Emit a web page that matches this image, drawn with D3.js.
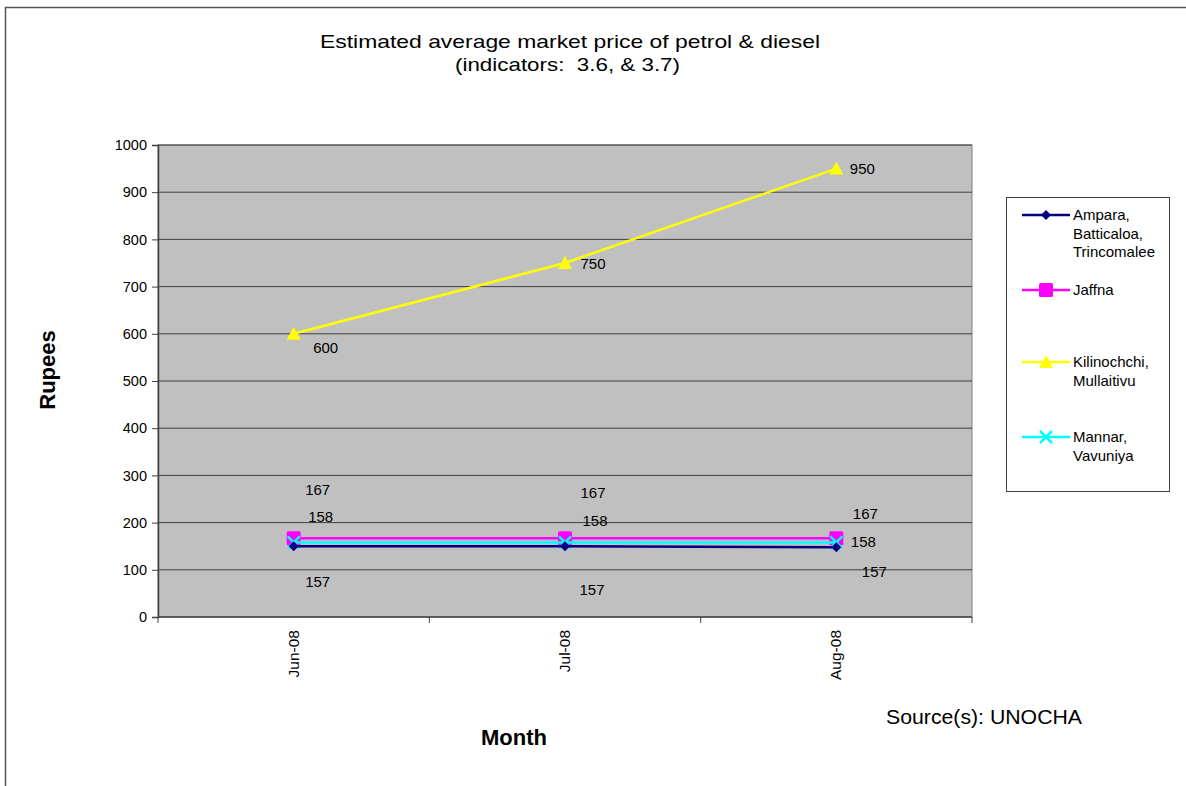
<!DOCTYPE html>
<html>
<head>
<style>
  body { margin: 0; background: #fff; }
  svg text { font-family: "Liberation Sans", Arial, sans-serif; fill: #000; white-space: pre; }
</style>
<script src="https://cdn.jsdelivr.net/npm/d3@7"></script>
</head>
<body>
<svg width="1186" height="786"></svg>
<script>
// data
var months = ["Jun-08", "Jul-08", "Aug-08"];
var ampara = [150, 150, 148];
var amparaLabels = [157, 157, 157];
var jaffna = [167, 167, 167];
var jaffnaLabels = [167, 167, 167];
var kilinochchi = [600, 750, 950];
var kilinochchiLabels = [600, 750, 950];
var mannar = [158, 158, 158];
var mannarLabels = [158, 158, 158];
var yTicks = [0, 100, 200, 300, 400, 500, 600, 700, 800, 900, 1000];

var series = [
  { name: ["Ampara,", "Batticaloa,", "Trincomalee"], values: ampara, labels: amparaLabels, color: "#000080", marker: "diamond",
    off: [[24, 36], [27, 44], [38, 25]], legendY: 215 },
  { name: ["Jaffna"], values: jaffna, labels: jaffnaLabels, color: "#ff00ff", marker: "square",
    off: [[24, -48], [28, -45], [29, -24]], legendY: 290 },
  { name: ["Kilinochchi,", "Mullaitivu"], values: kilinochchi, labels: kilinochchiLabels, color: "#ffff00", marker: "triangle",
    off: [[32, 14], [28, 1], [26, 0]], legendY: 362 },
  { name: ["Mannar,", "Vavuniya"], values: mannar, labels: mannarLabels, color: "#00ffff", marker: "x",
    off: [[27, -25], [30, -21], [27, 0]], legendY: 437 }
];

var svg = d3.select("svg");

// outer chart border
svg.append("rect").attr("x", 5.5).attr("y", 7.5).attr("width", 1200).attr("height", 800)
  .attr("fill", "none").attr("stroke", "#555").attr("stroke-width", 1.5);

var pLeft = 158, pTop = 145, pRight = 972, pBottom = 617;

var x = d3.scaleBand().domain(months).range([pLeft, pRight]);
var y = d3.scaleLinear().domain([0, 1000]).range([pBottom, pTop]);

// plot area
svg.append("rect").attr("x", pLeft).attr("y", pTop).attr("width", pRight - pLeft).attr("height", pBottom - pTop)
  .attr("fill", "#c0c0c0").attr("stroke", "#808080");

// gridlines
svg.append("g").selectAll("line").data(yTicks.slice(1)).enter().append("line")
  .attr("x1", pLeft).attr("x2", pRight)
  .attr("y1", function(d) { return y(d); }).attr("y2", function(d) { return y(d); })
  .attr("stroke", "#404040").attr("stroke-width", 1);

// y axis
var yAxis = svg.append("g").attr("transform", "translate(" + pLeft + ",0)")
  .call(d3.axisLeft(y).tickValues(yTicks).tickFormat(d3.format("d")).tickSize(6).tickPadding(5));
yAxis.select(".domain").attr("stroke", "#404040").attr("stroke-width", 1.5);
yAxis.selectAll(".tick line").attr("stroke", "#404040");
yAxis.selectAll(".tick text").attr("fill", "#000").style("font-size", "14.5px")
  .style("font-family", "'Liberation Sans', Arial, sans-serif");

// x axis (ticks at band edges)
var xAxis = svg.append("g").attr("transform", "translate(0," + pBottom + ")");
xAxis.append("line").attr("x1", pLeft).attr("x2", pRight).attr("stroke", "#404040").attr("stroke-width", 1.5);
xAxis.selectAll(".edge").data(months.concat(["end"])).enter().append("line")
  .attr("x1", function(d, i) { return i < months.length ? x(d) : pRight; })
  .attr("x2", function(d, i) { return i < months.length ? x(d) : pRight; })
  .attr("y1", 0).attr("y2", 6).attr("stroke", "#404040");
xAxis.selectAll("text").data(months).enter().append("text")
  .attr("transform", function(d) { return "translate(" + (x(d) + x.bandwidth() / 2 + 5) + ",13) rotate(-90)"; })
  .attr("text-anchor", "end").style("font-size", "15.5px").text(function(d) { return d; });

var line = d3.line()
  .x(function(d, i) { return x(months[i]) + x.bandwidth() / 2; })
  .y(function(d) { return y(d); });

function drawMarker(g, type, color, cx, cy) {
  if (type === "diamond") {
    g.append("path").attr("d", "M" + cx + "," + (cy - 5) + "L" + (cx + 5) + "," + cy + "L" + cx + "," + (cy + 5) + "L" + (cx - 5) + "," + cy + "Z")
      .attr("fill", color);
  } else if (type === "square") {
    g.append("rect").attr("x", cx - 7).attr("y", cy - 7).attr("width", 14).attr("height", 14).attr("rx", 1.5)
      .attr("fill", color);
  } else if (type === "triangle") {
    g.append("path").attr("d", "M" + cx + "," + (cy - 7) + "L" + (cx + 7) + "," + (cy + 6) + "L" + (cx - 7) + "," + (cy + 6) + "Z")
      .attr("fill", color);
  } else {
    g.append("path").attr("d", "M" + (cx - 6) + "," + (cy - 6) + "L" + (cx + 6) + "," + (cy + 6) + "M" + (cx + 6) + "," + (cy - 6) + "L" + (cx - 6) + "," + (cy + 6))
      .attr("stroke", color).attr("stroke-width", 2.5).attr("fill", "none");
  }
}

// draw order: yellow, magenta, cyan, navy
var order = [2, 1, 3, 0];
order.forEach(function(si) {
  var s = series[si];
  var g = svg.append("g");
  g.append("path").datum(s.values).attr("d", line)
    .attr("fill", "none").attr("stroke", s.color).attr("stroke-width", 2.5);
  s.values.forEach(function(v, i) {
    drawMarker(g, s.marker, s.color, x(months[i]) + x.bandwidth() / 2, y(v));
  });
});

// data labels
series.forEach(function(s) {
  s.labels.forEach(function(v, i) {
    svg.append("text")
      .attr("x", x(months[i]) + x.bandwidth() / 2 + s.off[i][0])
      .attr("y", y(s.values[i]) + s.off[i][1] + 5)
      .attr("text-anchor", "middle").style("font-size", "15px").text(v);
  });
});

// legend
var lg = svg.append("g");
lg.append("rect").attr("x", 1006.5).attr("y", 197.5).attr("width", 163).attr("height", 294)
  .attr("fill", "#fff").attr("stroke", "#404040");
series.forEach(function(s) {
  lg.append("line").attr("x1", 1022).attr("x2", 1070).attr("y1", s.legendY).attr("y2", s.legendY)
    .attr("stroke", s.color).attr("stroke-width", 2.5);
  drawMarker(lg, s.marker, s.color, 1046, s.legendY);
  s.name.forEach(function(t, k) {
    lg.append("text").attr("x", 1073).attr("y", s.legendY + 5 + k * 18.5)
      .style("font-size", "15px").attr("fill", "#222").text(t);
  });
});

// titles
svg.append("text").attr("x", 320).attr("y", 48)
  .attr("textLength", 500).attr("lengthAdjust", "spacingAndGlyphs")
  .style("font-size", "19px").text("Estimated average market price of petrol & diesel");
svg.append("text").attr("x", 455).attr("y", 71)
  .attr("textLength", 225).attr("lengthAdjust", "spacingAndGlyphs")
  .style("font-size", "19px").text("(indicators:  3.6, & 3.7)");
svg.append("text").attr("transform", "translate(55,370) rotate(-90)").attr("text-anchor", "middle")
  .style("font-size", "22px").style("font-weight", "bold").text("Rupees");
svg.append("text").attr("x", 514).attr("y", 745).attr("text-anchor", "middle")
  .style("font-size", "22px").style("font-weight", "bold").text("Month");
svg.append("text").attr("x", 886).attr("y", 724)
  .attr("textLength", 196).attr("lengthAdjust", "spacingAndGlyphs")
  .style("font-size", "21px").text("Source(s): UNOCHA");
</script>
</body>
</html>
